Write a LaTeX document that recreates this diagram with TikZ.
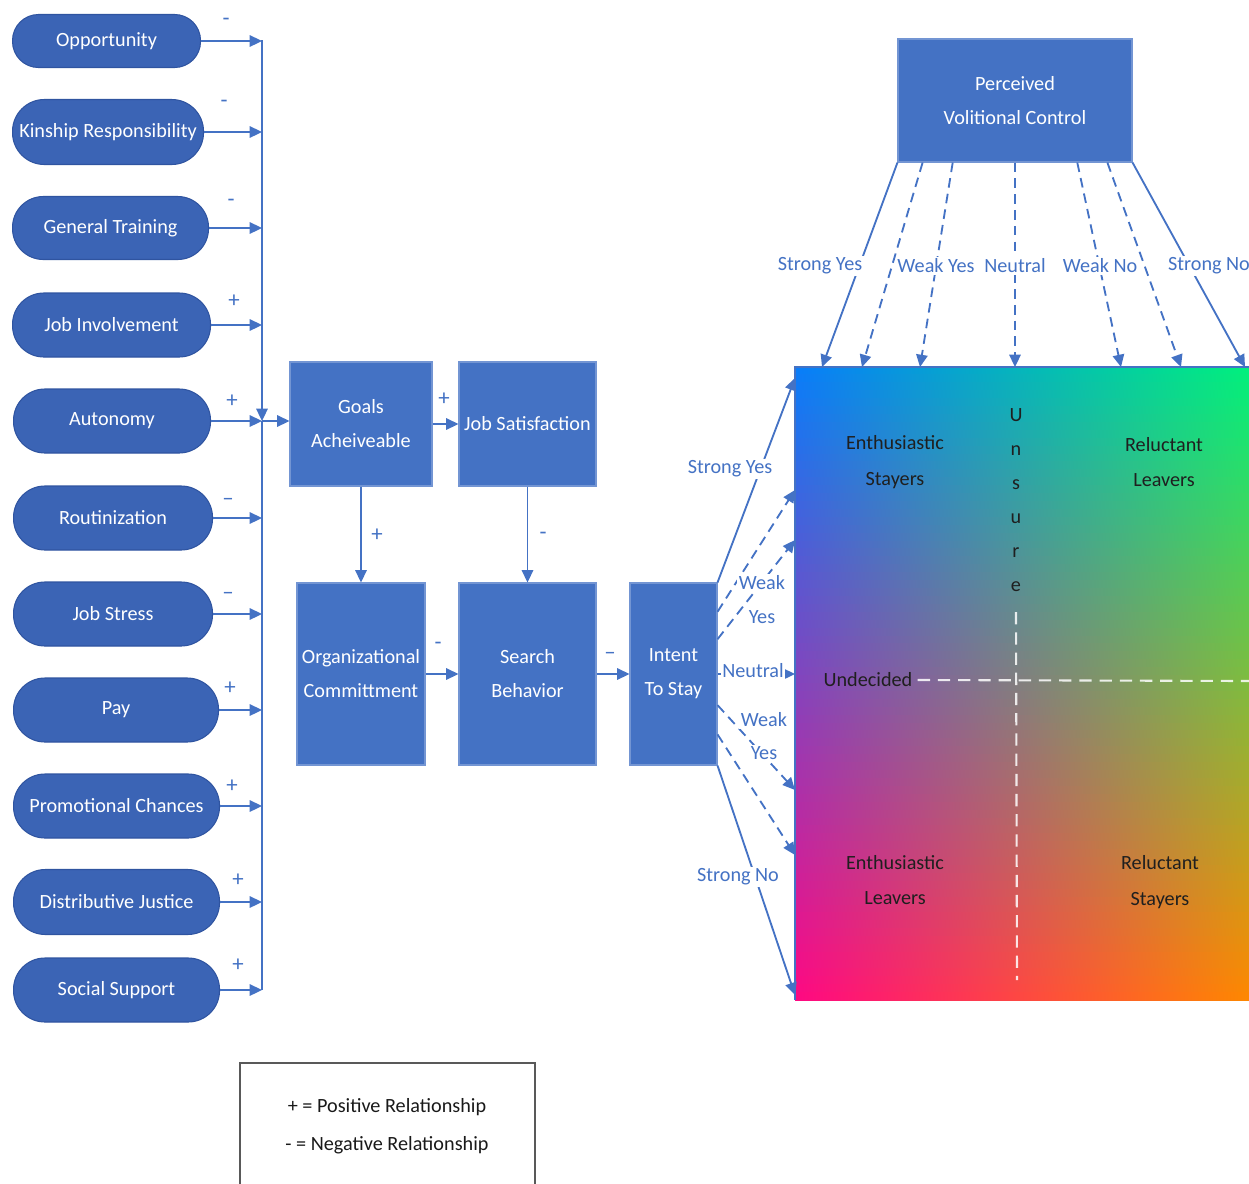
\documentclass[tikz,border=0pt]{standalone}
\usepackage{fontspec}
\setmainfont{Carlito}
\usetikzlibrary{arrows.meta,calc}

\definecolor{pillblue}{RGB}{59,100,181}
\definecolor{pilledge}{RGB}{47,84,160}
\definecolor{boxblue}{RGB}{68,114,196}
\definecolor{linkblue}{RGB}{68,114,196}
\definecolor{TLc}{RGB}{8,125,250}
\definecolor{TRc}{RGB}{0,240,125}
\definecolor{BLc}{RGB}{255,8,130}
\definecolor{BRc}{RGB}{255,135,0}

\begin{document}
\begin{tikzpicture}[x=0.02cm,y=-0.02cm,
  every node/.style={font=\fontsize{11.5}{19.3}\selectfont},
  pill/.style={draw=pilledge, line width=0.6pt, fill=pillblue, text=white,
    minimum height=#1*0.02cm, rounded corners=#1*0.0098cm, anchor=west, inner sep=0pt},
  blockbox/.style={draw=boxblue!75!white, line width=0.6pt, fill=boxblue, text=white,
    align=center, inner sep=0pt},
  wire/.style={draw=linkblue, line width=1.05pt},
  link/.style={wire, -{Triangle[length=7pt,width=6.5pt]}},
  dashedlink/.style={link, dash pattern=on 5.5pt off 3.5pt},
  sign/.style={text=linkblue, inner sep=0pt, font=\fontsize{13}{15}\selectfont},
  lab/.style={text=linkblue, fill=white, inner sep=1pt},
  quad/.style={text=black!88, align=center, inner sep=0pt, font=\fontsize{11.5}{20.4}\selectfont},
  split/.style={draw=white, opacity=0.85, line width=1.2pt, dash pattern=on 7pt off 4.5pt},
]
\useasboundingbox (0,0) rectangle (1249,1184);

% ---- antecedent pills ----
\node[pill=53, minimum width=188*0.02cm] (p1) at (12,41) {Opportunity};
\node[pill=65, minimum width=191*0.02cm] (p2) at (12,132) {Kinship Responsibility};
\node[pill=63, minimum width=196*0.02cm] (p3) at (12,228) {General Training};
\node[pill=64, minimum width=198*0.02cm] (p4) at (12,325) {Job Involvement};
\node[pill=64, minimum width=197*0.02cm] (p5) at (13,421) {Autonomy};
\node[pill=64, minimum width=199*0.02cm] (p6) at (13,518) {Routinization};
\node[pill=64, minimum width=199*0.02cm] (p7) at (13,614) {Job Stress};
\node[pill=64, minimum width=205*0.02cm] (p8) at (13,710) {Pay};
\node[pill=64, minimum width=206*0.02cm] (p9) at (13,806) {Promotional Chances};
\node[pill=65, minimum width=206*0.02cm] (p10) at (13,902) {Distributive Justice};
\node[pill=64, minimum width=206*0.02cm] (p11) at (13,990) {Social Support};

% ---- collecting bus ----
\coordinate (bustop) at (262,40);
\coordinate (busjoin) at (262,421);
\coordinate (busbot) at (262,990);
\draw[link] (bustop) -- (busjoin);
\draw[wire] (busbot) -- (busjoin);
\foreach \k in {1,...,11} {\draw[link] (p\k.east) -- (p\k.east -| bustop);}

\node[sign] (s1) at (226,22) {-};
\node[sign] (s2) at (224,104) {-};
\node[sign] (s3) at (231,203) {-};
\node[sign] (s4) at (234,301) {+};
\node[sign] (s5) at (232,401) {+};
\node[sign] (s6) at (228,502) {–};
\node[sign] (s7) at (228,596) {–};
\node[sign] (s8) at (230,688) {+};
\node[sign] (s9) at (232,786) {+};
\node[sign] (s10) at (238,880) {+};
\node[sign] (s11) at (238,965) {+};

% ---- process blocks ----
\node[blockbox, minimum width=142*0.02cm, minimum height=124*0.02cm] (goals) at (361,424) {Goals\\Acheiveable};
\node[blockbox, minimum width=137*0.02cm, minimum height=124*0.02cm] (jobsat) at (527.5,424) {Job Satisfaction};
\node[blockbox, minimum width=128*0.02cm, minimum height=182*0.02cm] (org) at (361,674) {Organizational\\Committment};
\node[blockbox, minimum width=137*0.02cm, minimum height=182*0.02cm] (search) at (527.5,674) {Search\\Behavior};
\node[blockbox, minimum width=87*0.02cm, minimum height=182*0.02cm] (intent) at (673.5,674) {Intent\\To Stay};
\node[blockbox, minimum width=234*0.02cm, minimum height=123*0.02cm] (pvc) at (1015,100.5) {Perceived\\Volitional Control};

\draw[link] (busjoin) -- (busjoin -| goals.west);
\draw[link] (goals.east) -- (jobsat.west);
\draw[link] (goals.south) -- (org.north);
\draw[link] (jobsat.south) -- (search.north);
\draw[link] (org.east) -- (search.west);
\draw[link] (search.east) -- (intent.west);
\node[sign] (sg) at (444,399) {+};
\node[sign] (sgo) at (377,535) {+};
\node[sign] (sjs) at (543,536) {-};
\node[sign] (sos) at (438,646) {-};
\node[sign] (ssi) at (610,656) {–};

% ---- outcome field: bilinear colour blend built from shaded strips ----
\foreach \i in {0,...,79} {
  \pgfmathsetmacro\p{100*(\i+0.5)/80}
  \pgfmathsetmacro\ya{367+\i*7.9125}
  \pgfmathsetmacro\yb{367+(\i+1)*7.9125+0.8}
  \colorlet{stripL}{BLc!\p!TLc}
  \colorlet{stripR}{BRc!\p!TRc}
  \shade[left color=stripL, right color=stripR] (795,\ya) rectangle (1249,\yb);
}
\coordinate (gtl) at (795,367);
\coordinate (gtr) at (1249,367);
\coordinate (gbl) at (795,1000);
\draw[linkblue, line width=1.4pt] (gbl) -- (gtl) -- (gtr);

\node[quad] (es) at (895,462) {Enthusiastic\\Stayers};
\node[quad] (rl) at (1164,462) {Reluctant\\Leavers};
\node[quad] (el) at (895,880) {Enthusiastic\\Leavers};
\node[quad] (rs) at (1160,882) {Reluctant\\Stayers};
\node[quad, font=\fontsize{11.5}{19.4}\selectfont] (unsure) at (1016,500) {U\\n\\s\\u\\r\\e};
\node[quad] (undec) at (868,680) {Undecided};
\coordinate (vend) at (1017,980);
\coordinate (hend) at (1249,681);
\draw[split] ([yshift=-0.4cm]unsure.south) -- (vend);
\draw[split] ([xshift=0.1cm]undec.east) -- (hend);

% ---- volitional control links ----
\coordinate (v1) at (822,367);
\coordinate (v2) at (862,367);
\coordinate (v3) at (920,367);
\coordinate (v4) at (1015,367);
\coordinate (v5) at (1121,367);
\coordinate (v6) at (1181,367);
\coordinate (v7) at (1245,367);
\draw[link] (pvc.south west) -- (v1);
\draw[dashedlink] ($(pvc.south west)!0.107!(pvc.south east)$) -- (v2);
\draw[dashedlink] ($(pvc.south west)!0.235!(pvc.south east)$) -- (v3);
\draw[dashedlink] (pvc.south) -- (v4);
\draw[dashedlink] ($(pvc.south west)!0.765!(pvc.south east)$) -- (v5);
\draw[dashedlink] ($(pvc.south west)!0.893!(pvc.south east)$) -- (v6);
\draw[link] (pvc.south east) -- (v7);
\node[lab] (l1) at (820,266) {Strong Yes};
\node[lab] (l2) at (936,266) {Weak Yes};
\node[lab] (l3) at (1015,266) {Neutral};
\node[lab] (l4) at (1100,266) {Weak No};
\node[lab] (l5) at (1209,266) {Strong No};

% ---- intent links ----
\coordinate (i1) at (795,378);
\coordinate (i2) at (795,490);
\coordinate (i3) at (795,540);
\coordinate (i4) at (795,674);
\coordinate (i5) at (795,790);
\coordinate (i6) at (795,855);
\coordinate (i7) at (795,995);
\draw[link] (intent.north east) -- (i1);
\draw[dashedlink] ($(intent.north east)!0.16!(intent.south east)$) -- (i2);
\draw[dashedlink] ($(intent.north east)!0.31!(intent.south east)$) -- (i3);
\draw[link] (intent.east) -- (i4);
\draw[dashedlink] ($(intent.north east)!0.67!(intent.south east)$) -- (i5);
\draw[dashedlink] ($(intent.north east)!0.83!(intent.south east)$) -- (i6);
\draw[link] (intent.south east) -- (i7);
\node[lab] (m1) at (730,469) {Strong Yes};
\node[lab] (m2) at (762,583) {Weak};
\node[lab] (m3) at (762,617) {Yes};
\node[lab] (m4) at (753,671) {Neutral};
\node[lab] (m5) at (764,720) {Weak};
\node[lab] (m6) at (764,753) {Yes};
\node[lab] (m7) at (738,877) {Strong No};

% ---- legend ----
\draw[black!65, line width=1pt] (240,1195) -- (240,1063) -- (535,1063) -- (535,1195);
\node[align=center, text=black!90, font=\fontsize{11.5}{21.5}\selectfont] (legend) at (387,1126)
  {+ = Positive Relationship\\- = Negative Relationship};
\end{tikzpicture}
\end{document}
